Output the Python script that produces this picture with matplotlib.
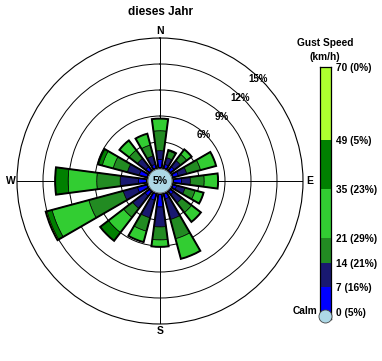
import matplotlib

matplotlib.use("Agg")
import matplotlib.pyplot as plt
import numpy as np
from matplotlib.patches import Circle

plt.rcParams["font.family"] = ["Liberation Sans", "DejaVu Sans"]
plt.rcParams["font.weight"] = "bold"

# wind directions (compass bearing, degrees)
directions = ["N", "NNE", "NE", "ENE", "E", "ESE", "SE", "SSE",
              "S", "SSW", "SW", "WSW", "W", "WNW", "NW", "NNW"]
bearings = np.arange(16) * 22.5

# share of time (%) per direction for each gust speed class
pct_0_7 = [1.0, 0.5, 0.6, 0.7, 1.0, 0.5, 0.5, 0.65, 1.5, 0.8, 0.7, 1.2, 1.0, 1.0, 0.6, 0.5]
pct_7_14 = [1.0, 0.8, 0.9, 1.0, 1.0, 1.0, 1.2, 2.45, 2.3, 2.1, 1.8, 1.7, 2.1, 1.4, 1.2, 1.0]
pct_14_21 = [2.3, 0.8, 0.9, 1.65, 1.6, 1.2, 1.4, 2.3, 1.5, 1.6, 1.3, 4.1, 2.7, 1.7, 1.2, 1.3]
pct_21_35 = [1.4, 0.1, 0.7, 1.85, 1.6, 1.0, 1.35, 2.4, 0.8, 1.3, 2.2, 4.4, 3.3, 1.3, 1.4, 1.35]
pct_35_49 = [0, 0, 0, 0, 0, 0, 0, 0, 0, 0, 1.2, 0.6, 1.5, 0.5, 0, 0]
pct_49_70 = [0, 0, 0, 0, 0, 0, 0, 0, 0, 0, 0, 0.15, 0, 0, 0, 0]
calm_pct = 5

speed_edges = [0, 7, 14, 21, 35, 49, 70]
class_totals = [16, 21, 29, 23, 5, 0]
class_colors = ["#0000ff", "#191970", "#228b22", "#32cd32", "#008000", "#adff2f"]

compass_angles = [0, 90, 180, 270]
compass_labels = ["N", "E", "S", "W"]
ring_values = [3, 6, 9, 12]
ring_labels = ["6%", "9%", "12%", "15%"]
ring_label_values = [6, 9, 12, 15]

W, H = 382, 361
fig = plt.figure(figsize=(W / 100, H / 100), dpi=100)

# ---- wind rose ----
cx, cy, rad = 160, 181, 143
ax = fig.add_axes([(cx - rad) / W, (H - cy - rad) / H, 2 * rad / W, 2 * rad / H], projection="polar")
ax.set_theta_zero_location("N")
ax.set_theta_direction(-1)
ax.set_ylim(0, 15)
ax.set_rorigin(-1.5)
ax.set_axisbelow(True)

ax.set_rticks(ring_values)
ax.set_yticklabels([])
ax.set_thetagrids(compass_angles, [""] * len(compass_angles))
ax.grid(True, color="black", linewidth=0.7)
ax.spines["polar"].set_color("black")
ax.spines["polar"].set_linewidth(0.8)
ax.spines["inner"].set_visible(False)

for ang, lab in zip(compass_angles, compass_labels):
    ax.text(np.deg2rad(ang), 15.75, lab, ha="center", va="center", fontsize=7.5,
            fontweight="bold", clip_on=False)

theta = np.deg2rad(bearings)
width = np.deg2rad(15)
bottom = np.zeros(16)
series = [pct_0_7, pct_7_14, pct_14_21, pct_21_35, pct_35_49, pct_49_70]
for vals, color in zip(series, class_colors):
    vals = np.array(vals, dtype=float)
    mask = vals > 0
    ax.bar(theta[mask], vals[mask], width=width, bottom=bottom[mask], color=color,
           edgecolor="black", linewidth=0.5, zorder=3)
    bottom += vals
ax.bar(theta, bottom, width=width, bottom=0, fill=False, edgecolor="black", linewidth=1.4, zorder=4)

for val, lab in zip(ring_label_values, ring_labels):
    ax.text(np.deg2rad(44), val - 0.2, lab, ha="center", va="center", fontsize=7, fontweight="bold", zorder=2)

ax.add_patch(Circle((0.5, 0.5), 12 / (2 * rad), transform=ax.transAxes, facecolor="#add8e6",
                    edgecolor="#444444", linewidth=0.5, zorder=5, clip_on=False))
ax.text(0.5, 0.5, f"{calm_pct}%", transform=ax.transAxes, ha="center", va="center",
        fontsize=7.5, fontweight="bold", zorder=6)

fig.text(cx / W, 1 - 12 / H, "dieses Jahr", ha="center", va="center", fontsize=8.5, fontweight="bold")

# ---- speed legend bar ----
cb_top, cb_bot = 66.7, 319
cax = fig.add_axes([320 / W, (H - cb_bot) / H, 10.5 / W, (cb_bot - cb_top) / H])
cax.set_xlim(-0.5, 0.5)
cax.set_ylim(-2, 70)
for i, color in enumerate(class_colors):
    lo = speed_edges[i] if i > 0 else -2
    cax.bar(0, speed_edges[i + 1] - lo, bottom=lo, width=1, color=color, linewidth=0)
cax.set_xticks([])
cax.yaxis.tick_right()
cax.set_yticks(speed_edges)
tick_texts = [f"{speed_edges[0]} ({calm_pct}%)"] + [f"{e} ({p}%)" for e, p in zip(speed_edges[1:], class_totals)]
cax.set_yticklabels(tick_texts, fontsize=7.3, fontweight="bold")
cax.tick_params(axis="y", length=0, pad=4)
for sp in cax.spines.values():
    sp.set_color("black")
    sp.set_linewidth(0.9)
cax.plot(0, -1.2, "o", ms=9.4, mfc="#add8e6", mec="#444444", mew=0.6, clip_on=False, zorder=5)
cax.text(-0.75, 0.3, "Calm", ha="right", va="center", fontsize=7.3, fontweight="bold")

fig.text(325 / W, 1 - 43 / H, "Gust Speed", ha="center", va="center", fontsize=7.3, fontweight="bold")
fig.text(325 / W, 1 - 57 / H, "(km/h)", ha="center", va="center", fontsize=7.3, fontweight="bold")

fig.savefig("out.png", dpi=100)
